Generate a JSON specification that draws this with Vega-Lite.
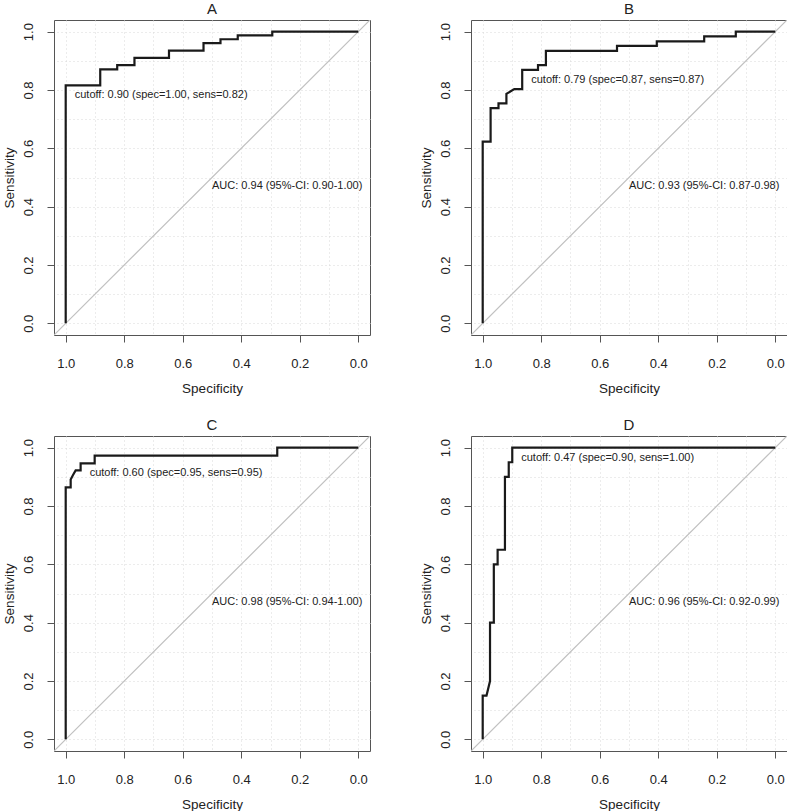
{
  "$schema": "https://vega.github.io/schema/vega-lite/v6.json",
  "padding": {"left": 1, "top": 1, "right": 0, "bottom": 0},
  "config": {
    "font": "Liberation Sans",
    "view": {"stroke": "#555555", "strokeWidth": 1},
    "background": "white"
  },
  "datasets": {
    "roc": [
      {"panel": "A", "kind": "roc", "ord": 1, "specificity": 1, "sensitivity": 0},
      {"panel": "A", "kind": "roc", "ord": 2, "specificity": 1, "sensitivity": 0.816},
      {"panel": "A", "kind": "roc", "ord": 3, "specificity": 0.882, "sensitivity": 0.816},
      {"panel": "A", "kind": "roc", "ord": 4, "specificity": 0.882, "sensitivity": 0.871},
      {"panel": "A", "kind": "roc", "ord": 5, "specificity": 0.824, "sensitivity": 0.871},
      {"panel": "A", "kind": "roc", "ord": 6, "specificity": 0.824, "sensitivity": 0.885},
      {"panel": "A", "kind": "roc", "ord": 7, "specificity": 0.765, "sensitivity": 0.885},
      {"panel": "A", "kind": "roc", "ord": 8, "specificity": 0.765, "sensitivity": 0.910},
      {"panel": "A", "kind": "roc", "ord": 9, "specificity": 0.647, "sensitivity": 0.910},
      {"panel": "A", "kind": "roc", "ord": 10, "specificity": 0.647, "sensitivity": 0.935},
      {"panel": "A", "kind": "roc", "ord": 11, "specificity": 0.529, "sensitivity": 0.935},
      {"panel": "A", "kind": "roc", "ord": 12, "specificity": 0.529, "sensitivity": 0.961},
      {"panel": "A", "kind": "roc", "ord": 13, "specificity": 0.471, "sensitivity": 0.961},
      {"panel": "A", "kind": "roc", "ord": 14, "specificity": 0.471, "sensitivity": 0.974},
      {"panel": "A", "kind": "roc", "ord": 15, "specificity": 0.412, "sensitivity": 0.974},
      {"panel": "A", "kind": "roc", "ord": 16, "specificity": 0.412, "sensitivity": 0.987},
      {"panel": "A", "kind": "roc", "ord": 17, "specificity": 0.294, "sensitivity": 0.987},
      {"panel": "A", "kind": "roc", "ord": 18, "specificity": 0.294, "sensitivity": 1},
      {"panel": "A", "kind": "roc", "ord": 19, "specificity": 0, "sensitivity": 1},

      {"panel": "B", "kind": "roc", "ord": 1, "specificity": 1, "sensitivity": 0},
      {"panel": "B", "kind": "roc", "ord": 2, "specificity": 1, "sensitivity": 0.623},
      {"panel": "B", "kind": "roc", "ord": 3, "specificity": 0.973, "sensitivity": 0.623},
      {"panel": "B", "kind": "roc", "ord": 4, "specificity": 0.973, "sensitivity": 0.738},
      {"panel": "B", "kind": "roc", "ord": 5, "specificity": 0.946, "sensitivity": 0.738},
      {"panel": "B", "kind": "roc", "ord": 6, "specificity": 0.946, "sensitivity": 0.754},
      {"panel": "B", "kind": "roc", "ord": 7, "specificity": 0.919, "sensitivity": 0.754},
      {"panel": "B", "kind": "roc", "ord": 8, "specificity": 0.919, "sensitivity": 0.787},
      {"panel": "B", "kind": "roc", "ord": 9, "specificity": 0.892, "sensitivity": 0.803},
      {"panel": "B", "kind": "roc", "ord": 10, "specificity": 0.865, "sensitivity": 0.803},
      {"panel": "B", "kind": "roc", "ord": 11, "specificity": 0.865, "sensitivity": 0.869},
      {"panel": "B", "kind": "roc", "ord": 12, "specificity": 0.811, "sensitivity": 0.869},
      {"panel": "B", "kind": "roc", "ord": 13, "specificity": 0.811, "sensitivity": 0.885},
      {"panel": "B", "kind": "roc", "ord": 14, "specificity": 0.784, "sensitivity": 0.885},
      {"panel": "B", "kind": "roc", "ord": 15, "specificity": 0.784, "sensitivity": 0.934},
      {"panel": "B", "kind": "roc", "ord": 16, "specificity": 0.541, "sensitivity": 0.934},
      {"panel": "B", "kind": "roc", "ord": 17, "specificity": 0.541, "sensitivity": 0.951},
      {"panel": "B", "kind": "roc", "ord": 18, "specificity": 0.405, "sensitivity": 0.951},
      {"panel": "B", "kind": "roc", "ord": 19, "specificity": 0.405, "sensitivity": 0.967},
      {"panel": "B", "kind": "roc", "ord": 20, "specificity": 0.243, "sensitivity": 0.967},
      {"panel": "B", "kind": "roc", "ord": 21, "specificity": 0.243, "sensitivity": 0.984},
      {"panel": "B", "kind": "roc", "ord": 22, "specificity": 0.135, "sensitivity": 0.984},
      {"panel": "B", "kind": "roc", "ord": 23, "specificity": 0.135, "sensitivity": 1},
      {"panel": "B", "kind": "roc", "ord": 24, "specificity": 0, "sensitivity": 1},

      {"panel": "C", "kind": "roc", "ord": 1, "specificity": 1, "sensitivity": 0},
      {"panel": "C", "kind": "roc", "ord": 2, "specificity": 1, "sensitivity": 0.864},
      {"panel": "C", "kind": "roc", "ord": 3, "specificity": 0.983, "sensitivity": 0.864},
      {"panel": "C", "kind": "roc", "ord": 4, "specificity": 0.983, "sensitivity": 0.891},
      {"panel": "C", "kind": "roc", "ord": 5, "specificity": 0.975, "sensitivity": 0.906},
      {"panel": "C", "kind": "roc", "ord": 6, "specificity": 0.966, "sensitivity": 0.922},
      {"panel": "C", "kind": "roc", "ord": 7, "specificity": 0.949, "sensitivity": 0.922},
      {"panel": "C", "kind": "roc", "ord": 8, "specificity": 0.949, "sensitivity": 0.946},
      {"panel": "C", "kind": "roc", "ord": 9, "specificity": 0.901, "sensitivity": 0.946},
      {"panel": "C", "kind": "roc", "ord": 10, "specificity": 0.901, "sensitivity": 0.973},
      {"panel": "C", "kind": "roc", "ord": 11, "specificity": 0.277, "sensitivity": 0.973},
      {"panel": "C", "kind": "roc", "ord": 12, "specificity": 0.277, "sensitivity": 1},
      {"panel": "C", "kind": "roc", "ord": 13, "specificity": 0, "sensitivity": 1},

      {"panel": "D", "kind": "roc", "ord": 1, "specificity": 1, "sensitivity": 0},
      {"panel": "D", "kind": "roc", "ord": 2, "specificity": 1, "sensitivity": 0.15},
      {"panel": "D", "kind": "roc", "ord": 3, "specificity": 0.987, "sensitivity": 0.15},
      {"panel": "D", "kind": "roc", "ord": 4, "specificity": 0.975, "sensitivity": 0.2},
      {"panel": "D", "kind": "roc", "ord": 5, "specificity": 0.975, "sensitivity": 0.4},
      {"panel": "D", "kind": "roc", "ord": 6, "specificity": 0.962, "sensitivity": 0.4},
      {"panel": "D", "kind": "roc", "ord": 7, "specificity": 0.962, "sensitivity": 0.6},
      {"panel": "D", "kind": "roc", "ord": 8, "specificity": 0.949, "sensitivity": 0.6},
      {"panel": "D", "kind": "roc", "ord": 9, "specificity": 0.949, "sensitivity": 0.65},
      {"panel": "D", "kind": "roc", "ord": 10, "specificity": 0.924, "sensitivity": 0.65},
      {"panel": "D", "kind": "roc", "ord": 11, "specificity": 0.924, "sensitivity": 0.9},
      {"panel": "D", "kind": "roc", "ord": 12, "specificity": 0.911, "sensitivity": 0.9},
      {"panel": "D", "kind": "roc", "ord": 13, "specificity": 0.911, "sensitivity": 0.95},
      {"panel": "D", "kind": "roc", "ord": 14, "specificity": 0.899, "sensitivity": 0.95},
      {"panel": "D", "kind": "roc", "ord": 15, "specificity": 0.899, "sensitivity": 1},
      {"panel": "D", "kind": "roc", "ord": 16, "specificity": 0, "sensitivity": 1},

      {"panel": "A", "kind": "diag", "ord": 1, "specificity": 1.04, "sensitivity": -0.04},
      {"panel": "A", "kind": "diag", "ord": 2, "specificity": -0.04, "sensitivity": 1.04},
      {"panel": "B", "kind": "diag", "ord": 1, "specificity": 1.04, "sensitivity": -0.04},
      {"panel": "B", "kind": "diag", "ord": 2, "specificity": -0.04, "sensitivity": 1.04},
      {"panel": "C", "kind": "diag", "ord": 1, "specificity": 1.04, "sensitivity": -0.04},
      {"panel": "C", "kind": "diag", "ord": 2, "specificity": -0.04, "sensitivity": 1.04},
      {"panel": "D", "kind": "diag", "ord": 1, "specificity": 1.04, "sensitivity": -0.04},
      {"panel": "D", "kind": "diag", "ord": 2, "specificity": -0.04, "sensitivity": 1.04},

      {"panel": "A", "kind": "cutoff", "ord": 1, "specificity": 1.0, "sensitivity": 0.816, "label": "cutoff: 0.90 (spec=1.00, sens=0.82)"},
      {"panel": "B", "kind": "cutoff", "ord": 1, "specificity": 0.865, "sensitivity": 0.869, "label": "cutoff: 0.79 (spec=0.87, sens=0.87)"},
      {"panel": "C", "kind": "cutoff", "ord": 1, "specificity": 0.949, "sensitivity": 0.946, "label": "cutoff: 0.60 (spec=0.95, sens=0.95)"},
      {"panel": "D", "kind": "cutoff", "ord": 1, "specificity": 0.899, "sensitivity": 1.0, "label": "cutoff: 0.47 (spec=0.90, sens=1.00)"},

      {"panel": "A", "kind": "auc", "ord": 1, "specificity": 0.5, "sensitivity": 0.5, "label": "AUC: 0.94 (95%-CI: 0.90-1.00)"},
      {"panel": "B", "kind": "auc", "ord": 1, "specificity": 0.5, "sensitivity": 0.5, "label": "AUC: 0.93 (95%-CI: 0.87-0.98)"},
      {"panel": "C", "kind": "auc", "ord": 1, "specificity": 0.5, "sensitivity": 0.5, "label": "AUC: 0.98 (95%-CI: 0.94-1.00)"},
      {"panel": "D", "kind": "auc", "ord": 1, "specificity": 0.5, "sensitivity": 0.5, "label": "AUC: 0.96 (95%-CI: 0.92-0.99)"}
    ]
  },
  "data": {"name": "roc"},
  "facet": {
    "field": "panel",
    "type": "nominal",
    "header": {
      "title": null,
      "labelFontSize": 15,
      "labelColor": "#222222",
      "labelFont": "Liberation Sans",
      "labelPadding": 3
    }
  },
  "columns": 2,
  "spacing": {"row": 101, "column": 101},
  "bounds": "flush",
  "resolve": {"axis": {"x": "independent", "y": "independent"}},
  "spec": {
    "width": 316,
    "height": 315,
    "encoding": {
      "x": {
        "field": "specificity",
        "type": "quantitative",
        "title": "Specificity",
        "scale": {"domain": [-0.04, 1.04], "reverse": true, "nice": false, "zero": false},
        "axis": {
          "values": [0, 0.1, 0.2, 0.3, 0.4, 0.5, 0.6, 0.7, 0.8, 0.9, 1],
          "grid": true,
          "gridColor": "#d8d8d8",
          "gridDash": [1, 3],
          "gridWidth": 1,
          "domain": false,
          "tickColor": "#555555",
          "tickSize": 7,
          "tickOpacity": {"condition": {"test": "round(datum.value*10) % 2 === 0", "value": 1}, "value": 0},
          "labelExpr": "round(datum.value*10) % 2 === 0 ? format(datum.value, '.1f') : ''",
          "labelFontSize": 13,
          "labelColor": "#222222",
          "labelPadding": 15,
          "labelFlush": false,
          "labelOverlap": false,
          "titleFontSize": 13.5,
          "titleFontWeight": "normal",
          "titleColor": "#222222",
          "titlePadding": 11
        }
      },
      "y": {
        "field": "sensitivity",
        "type": "quantitative",
        "title": "Sensitivity",
        "scale": {"domain": [-0.04, 1.04], "nice": false, "zero": false},
        "axis": {
          "values": [0, 0.1, 0.2, 0.3, 0.4, 0.5, 0.6, 0.7, 0.8, 0.9, 1],
          "grid": true,
          "gridColor": "#d8d8d8",
          "gridDash": [1, 3],
          "gridWidth": 1,
          "domain": false,
          "tickColor": "#555555",
          "tickSize": 7,
          "tickOpacity": {"condition": {"test": "round(datum.value*10) % 2 === 0", "value": 1}, "value": 0},
          "labelExpr": "round(datum.value*10) % 2 === 0 ? format(datum.value, '.1f') : ''",
          "labelFontSize": 13,
          "labelColor": "#222222",
          "labelAngle": -90,
          "labelAlign": "center",
          "labelBaseline": "alphabetic",
          "labelPadding": 15,
          "labelFlush": false,
          "labelOverlap": false,
          "titleFontSize": 13.5,
          "titleFontWeight": "normal",
          "titleColor": "#222222",
          "titlePadding": 6
        }
      }
    },
    "layer": [
      {
        "transform": [{"filter": "datum.kind === 'diag'"}],
        "mark": {"type": "line", "color": "#c0c0c0", "strokeWidth": 1.2, "clip": true},
        "encoding": {"order": {"field": "ord", "type": "quantitative"}}
      },
      {
        "transform": [{"filter": "datum.kind === 'roc'"}],
        "mark": {"type": "line", "color": "#1a1a1a", "strokeWidth": 2.2},
        "encoding": {"order": {"field": "ord", "type": "quantitative"}}
      },
      {
        "transform": [{"filter": "datum.kind === 'cutoff'"}],
        "mark": {"type": "text", "align": "left", "baseline": "middle", "dx": 9, "dy": 10, "fontSize": 11, "color": "#222222"},
        "encoding": {"text": {"field": "label", "type": "nominal"}}
      },
      {
        "transform": [{"filter": "datum.kind === 'auc'"}],
        "mark": {"type": "text", "align": "left", "baseline": "top", "dy": 2, "fontSize": 11, "color": "#222222"},
        "encoding": {"text": {"field": "label", "type": "nominal"}}
      }
    ]
  }
}
